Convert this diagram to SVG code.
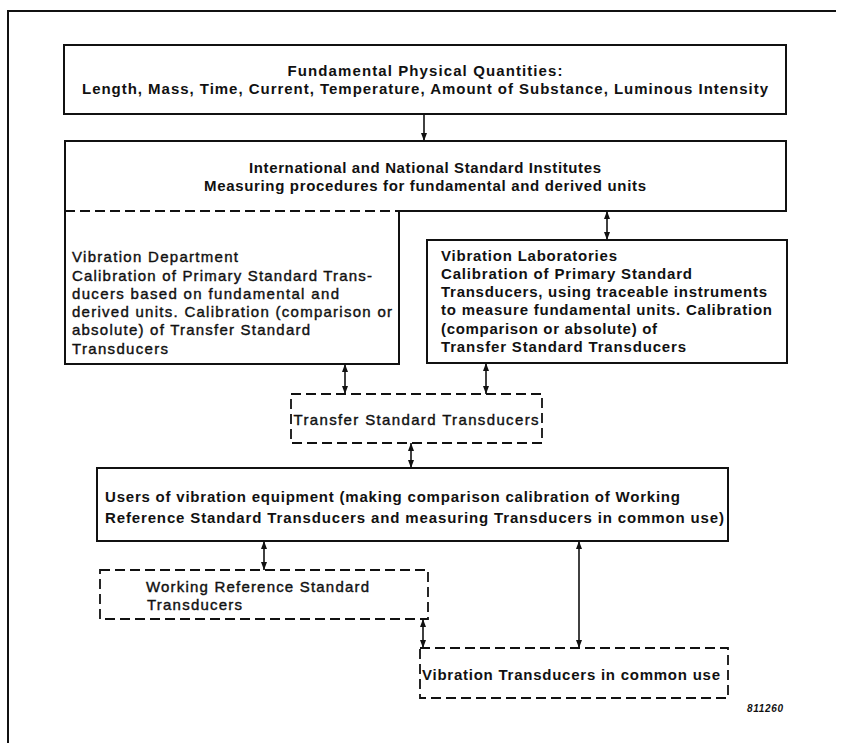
<svg xmlns="http://www.w3.org/2000/svg" width="842" height="743" viewBox="0 0 842 743">
<defs>
<style>
text{font-family:"Liberation Sans",Arial,Helvetica,sans-serif;font-size:15px;font-weight:bold;fill:#111}
.lt{font-weight:normal;stroke:#111;stroke-width:0.4}
.solid{fill:none;stroke:#111;stroke-width:2}
.dash{fill:none;stroke:#111;stroke-width:1.8;stroke-dasharray:10 5}
.conn{fill:none;stroke:#111;stroke-width:1.6}
.fig{font-size:10px;font-style:italic}
</style>
<marker id="ah" viewBox="0 0 8 6" refX="8" refY="3" markerWidth="8" markerHeight="6" markerUnits="userSpaceOnUse" orient="auto-start-reverse">
<path d="M0,0 L8,3 L0,6 z" fill="#111"/>
</marker>
</defs>
<rect width="842" height="743" fill="#fff"/>
<g id="frame">
<path d="M8,743 V11 H836" class="solid" stroke-width="1.8"/>
</g>
<g id="fundamental">
<rect x="64" y="45" width="722" height="69" class="solid"/>
<text x="425" y="76" text-anchor="middle" textLength="275">Fundamental Physical Quantities:</text>
<text x="425" y="94" text-anchor="middle" textLength="686">Length, Mass, Time, Current, Temperature, Amount of Substance, Luminous Intensity</text>
</g>
<g id="institutes">
<path d="M399,211 H786 V141 H65 V211" class="solid"/>
<path d="M65,211 H399" class="dash"/>
<text x="425" y="173" text-anchor="middle" textLength="352">International and National Standard Institutes</text>
<text x="425" y="191" text-anchor="middle" textLength="442">Measuring procedures for fundamental and derived units</text>
</g>
<g id="vib-department">
<path d="M65,211 V364 H399 V211" class="solid"/>
<text class="lt" x="72" y="262" textLength="166">Vibration Department</text>
<text class="lt" x="72" y="281" textLength="300">Calibration of Primary Standard Trans-</text>
<text class="lt" x="72" y="299" textLength="267">ducers based on fundamental and</text>
<text class="lt" x="72" y="317" textLength="320">derived units. Calibration (comparison or</text>
<text class="lt" x="72" y="335" textLength="238">absolute) of Transfer Standard</text>
<text class="lt" x="72" y="354" textLength="96">Transducers</text>
</g>
<g id="vib-laboratories">
<rect x="427" y="240" width="360" height="123" class="solid"/>
<text x="441" y="261" textLength="176">Vibration Laboratories</text>
<text x="441" y="279" textLength="251">Calibration of Primary Standard</text>
<text x="441" y="297" textLength="326">Transducers, using traceable instruments</text>
<text x="441" y="315" textLength="331">to measure fundamental units. Calibration</text>
<text x="441" y="334" textLength="216">(comparison or absolute) of</text>
<text x="441" y="352" textLength="245">Transfer Standard Transducers</text>
</g>
<g id="transfer">
<rect x="291" y="394" width="251" height="49" class="dash"/>
<text class="lt" x="416" y="425" text-anchor="middle" textLength="245">Transfer Standard Transducers</text>
</g>
<g id="users">
<rect x="97" y="468" width="631" height="73" class="solid"/>
<text x="105" y="502" textLength="575">Users of vibration equipment (making comparison calibration of Working</text>
<text x="105" y="523" textLength="619">Reference Standard Transducers and measuring Transducers in common use)</text>
</g>
<g id="working-reference">
<rect x="100" y="570" width="328" height="49" class="dash"/>
<text class="lt" x="146" y="592" textLength="223">Working Reference Standard</text>
<text class="lt" x="147" y="610" textLength="95">Transducers</text>
</g>
<g id="vib-transducers">
<rect x="420" y="648" width="308" height="50" class="dash"/>
<text x="422" y="680" textLength="298">Vibration Transducers in common use</text>
</g>
<g id="figure-number">
<text class="fig" x="747" y="712" textLength="36">811260</text>
</g>
<g id="connectors">
<line x1="424" y1="114" x2="424" y2="141" class="conn" marker-end="url(#ah)"/>
<line x1="607" y1="211" x2="607" y2="240" class="conn" marker-start="url(#ah)" marker-end="url(#ah)"/>
<line x1="345" y1="364" x2="345" y2="394" class="conn" marker-start="url(#ah)" marker-end="url(#ah)"/>
<line x1="486" y1="363" x2="486" y2="394" class="conn" marker-start="url(#ah)" marker-end="url(#ah)"/>
<line x1="411" y1="443" x2="411" y2="468" class="conn" marker-start="url(#ah)" marker-end="url(#ah)"/>
<line x1="264" y1="541" x2="264" y2="570" class="conn" marker-start="url(#ah)" marker-end="url(#ah)"/>
<line x1="423" y1="619" x2="423" y2="648" class="conn" marker-start="url(#ah)" marker-end="url(#ah)"/>
<line x1="579" y1="541" x2="579" y2="648" class="conn" marker-start="url(#ah)" marker-end="url(#ah)"/>
</g>
</svg>
